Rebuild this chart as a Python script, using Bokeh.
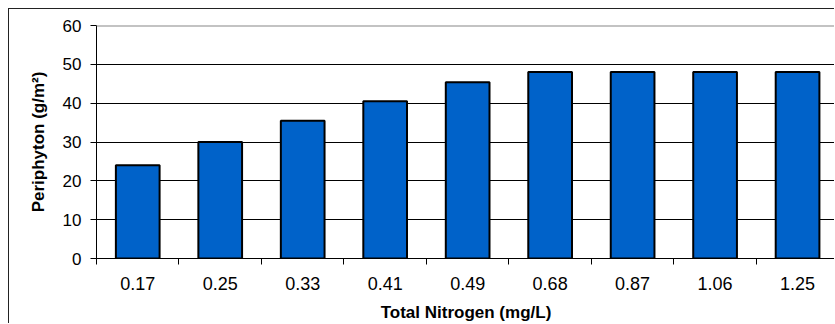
from bokeh.plotting import figure
from bokeh.models import FixedTicker, Range1d, Span
from bokeh.embed import file_html
from bokeh.resources import INLINE

categories = ["0.17", "0.25", "0.33", "0.41", "0.49", "0.68", "0.87", "1.06", "1.25"]
periphyton = [24.0, 30.0, 35.5, 40.5, 45.4, 48.0, 48.0, 48.0, 48.0]
y_ticks = [0, 10, 20, 30, 40, 50, 60]

FONT = "Liberation Sans"

n = len(categories)
centers = [i + 0.5 for i in range(n)]

p = figure(width=826, height=315, output_backend="svg", toolbar_location=None,
           x_range=Range1d(0, 8.96), y_range=Range1d(0, 60),
           min_border_left=87, min_border_right=0, min_border_top=16, min_border_bottom=66)
p.styles = {"margin-left": "8px", "margin-top": "8px",
            "border-left": "1px solid #222222", "border-top": "1px solid #222222"}
p.outline_line_color = None
p.background_fill_color = "white"
p.border_fill_color = "white"

p.vbar(x=centers, top=periphyton, width=0.53, bottom=0,
       fill_color="#0062C9", line_color="black", line_width=2)

# x axis
p.xaxis.ticker = FixedTicker(ticks=centers, minor_ticks=list(range(n + 1)))
p.xaxis.major_label_overrides = {c: lab for c, lab in zip(centers, categories)}
p.xaxis.major_tick_in = 0
p.xaxis.major_tick_out = 0
p.xaxis.minor_tick_in = 0
p.xaxis.minor_tick_out = 6
p.xaxis.minor_tick_line_color = "black"
p.xaxis.axis_line_color = "black"
p.xaxis.major_label_text_font = FONT
p.xaxis.major_label_text_font_size = "18px"
p.xaxis.major_label_text_color = "black"
p.xaxis.major_label_standoff = 12
p.xaxis.axis_label = "Total Nitrogen (mg/L)"
p.xaxis.axis_label_text_font = FONT
p.xaxis.axis_label_text_font_size = "17px"
p.xaxis.axis_label_text_font_style = "bold"
p.xaxis.axis_label_text_color = "black"
p.xaxis.axis_label_standoff = 10

# y axis
p.yaxis.ticker = FixedTicker(ticks=y_ticks, minor_ticks=[])
p.yaxis.major_tick_in = 0
p.yaxis.major_tick_out = 6
p.yaxis.major_tick_line_color = "black"
p.yaxis.axis_line_color = "black"
p.yaxis.major_label_text_font = FONT
p.yaxis.major_label_text_font_size = "17px"
p.yaxis.major_label_text_color = "black"
p.yaxis.major_label_standoff = 9
p.yaxis.axis_label = "Periphyton (g/m²)"
p.yaxis.axis_label_text_font = FONT
p.yaxis.axis_label_text_font_size = "17px"
p.yaxis.axis_label_text_font_style = "bold"
p.yaxis.axis_label_text_color = "black"
p.yaxis.axis_label_standoff = 12

p.xgrid.grid_line_color = None
p.ygrid.ticker = FixedTicker(ticks=[10, 20, 30, 40, 50])
p.ygrid.grid_line_color = "black"
p.ygrid.grid_line_width = 1

p.add_layout(Span(location=60, dimension="width", line_color="#888888", line_width=2))

open("out.html", "w").write(file_html(p, INLINE))
